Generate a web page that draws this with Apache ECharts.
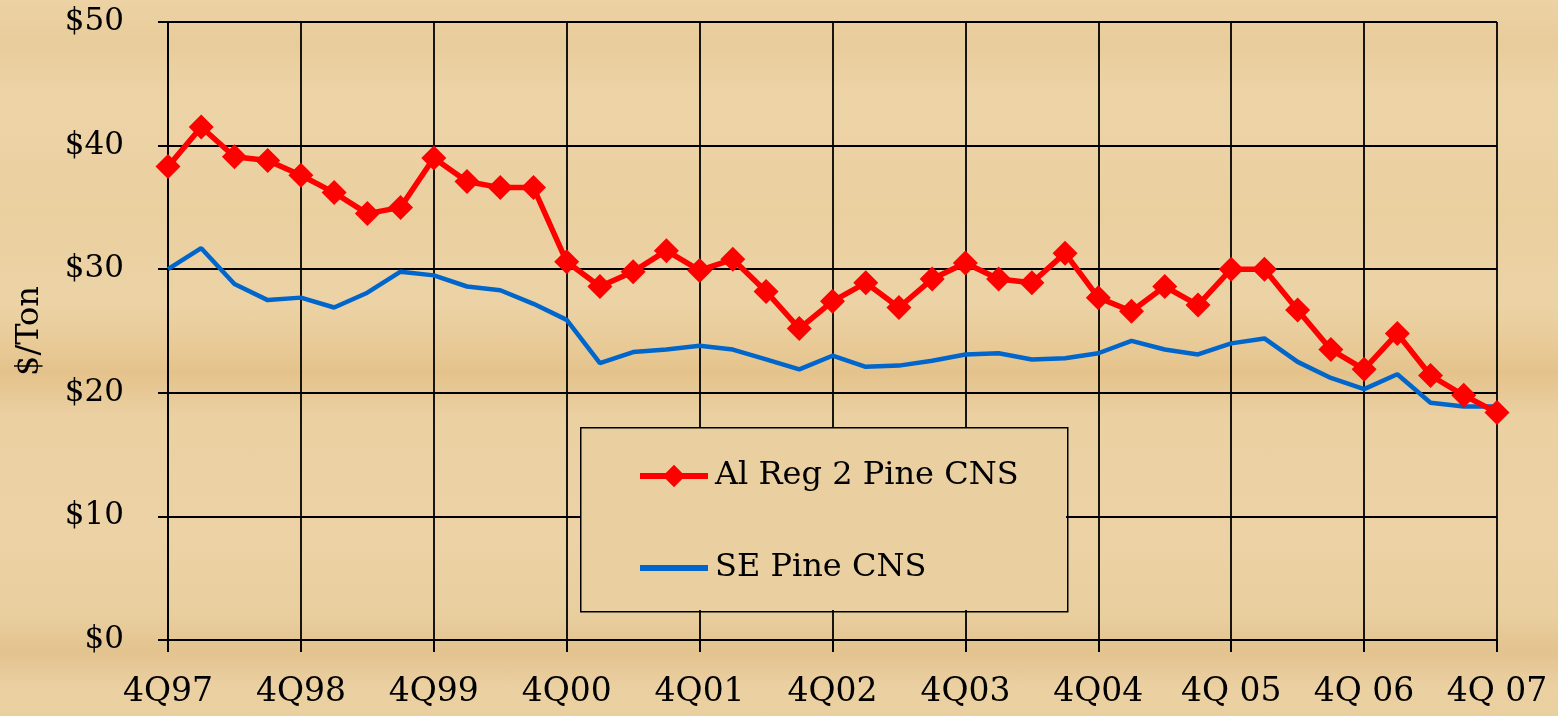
<!DOCTYPE html>
<html>
<head>
<meta charset="utf-8">
<script src="https://cdn.jsdelivr.net/npm/echarts@6/dist/echarts.min.js"></script>
<style>
html,body{margin:0;padding:0;}
body{width:1558px;height:716px;overflow:hidden;
background:linear-gradient(180deg,#ecd2a4 0%,#e9cc9b 6%,#edd4a7 14%,#eacf9f 30%,#ecd3a6 42%,#e8c995 49%,#e4c28b 52%,#ebd0a2 58%,#ecd2a5 75%,#e9ce9e 86%,#e3c38f 91%,#ebd0a2 96%,#ead09f 100%);}
#c{width:1558px;height:716px;}
</style>
</head>
<body>
<div id="c"></div>
<script>
const categories = [
 "4Q97","1Q98","2Q98","3Q98","4Q98","1Q99","2Q99","3Q99","4Q99","1Q00","2Q00","3Q00",
 "4Q00","1Q01","2Q01","3Q01","4Q01","1Q02","2Q02","3Q02","4Q02","1Q03","2Q03","3Q03",
 "4Q03","1Q04","2Q04","3Q04","4Q04","1Q05","2Q05","3Q05","4Q 05","1Q06","2Q06","3Q06",
 "4Q 06","1Q07","2Q07","3Q07","4Q 07"];
const alReg2Pine = [38.3,41.5,39.1,38.8,37.6,36.2,34.5,35.0,39.0,37.1,36.6,36.6,
 30.6,28.6,29.8,31.5,29.9,30.8,28.2,25.2,27.4,28.9,26.9,29.2,
 30.5,29.2,28.9,31.3,27.7,26.6,28.6,27.1,30.0,30.0,26.7,23.5,
 21.9,24.8,21.4,19.8,18.4];
const sePine = [30.0,31.7,28.8,27.5,27.7,26.9,28.1,29.8,29.5,28.6,28.3,27.2,
 25.9,22.4,23.3,23.5,23.8,23.5,22.7,21.9,23.0,22.1,22.2,22.6,
 23.1,23.2,22.7,22.8,23.2,24.2,23.5,23.1,24.0,24.4,22.5,21.2,
 20.3,21.5,19.2,18.9,18.9];
const yTicks = ["$0","$10","$20","$30","$40","$50"];
const seriesNames = ["Al Reg 2 Pine CNS","SE Pine CNS"];

const font = "'DejaVu Serif','Liberation Serif',serif";
const chart = echarts.init(document.getElementById('c'));
chart.setOption({
  backgroundColor: 'transparent',
  animation: false,
  grid: {left:168, right:61, top:22, bottom:76, containLabel:false},
  xAxis: {
    type:'category', data:categories, boundaryGap:false,
    axisLine:{lineStyle:{color:'#000',width:2}},
    axisTick:{show:true, interval:3, length:12, lineStyle:{color:'#000',width:2}},
    axisLabel:{interval:3, color:'#000', fontFamily:font, fontSize:33, margin:36},
    splitLine:{show:true, interval:3, lineStyle:{color:'#000',width:1.8}}
  },
  yAxis: {
    type:'value', min:0, max:50, interval:10,
    name:'$/Ton', nameLocation:'middle', nameGap:122, nameRotate:90,
    nameTextStyle:{color:'#000', fontFamily:font, fontSize:32},
    axisLine:{show:true, lineStyle:{color:'#000',width:2}},
    axisTick:{show:true, length:10, lineStyle:{color:'#000',width:2}},
    axisLabel:{color:'#000', fontFamily:font, fontSize:31, margin:44,
      formatter:(v)=>yTicks[Math.round(v/10)]},
    splitLine:{show:true, lineStyle:{color:'#000',width:1.8}}
  },
  graphic: [{
    type:'rect', left:580, top:427, z:5,
    shape:{width:487, height:184},
    style:{fill:'rgba(0,0,0,0)', stroke:'#000', lineWidth:1.5}
  },{
    type:'rect', left:581, top:428, z:4,
    shape:{width:485, height:182},
    style:{fill:'#ead0a1'}
  }],
  legend: {
    orient:'vertical', left:632, top:455, itemGap:60,
    itemWidth:68, itemHeight:28, z:10,
    lineStyle:{width:6},
    textStyle:{color:'#000', fontFamily:font, fontSize:32, padding:[0,0,0,2]},
    data: [{name:seriesNames[0]}, {name:seriesNames[1], itemStyle:{opacity:0}}]
  },
  series: [{
    name:seriesNames[0], type:'line', data:alReg2Pine,
    symbol:'diamond', symbolSize:25, showSymbol:true, showAllSymbol:true,
    lineStyle:{color:'#ff0000', width:5.5},
    itemStyle:{color:'#ff0000'}, z:3
  },{
    name:seriesNames[1], type:'line', data:sePine,
    symbol:'none', showSymbol:false,
    lineStyle:{color:'#0066cc', width:4.5},
    itemStyle:{color:'#0066cc'}, z:2
  }]
});
</script>
</body>
</html>
